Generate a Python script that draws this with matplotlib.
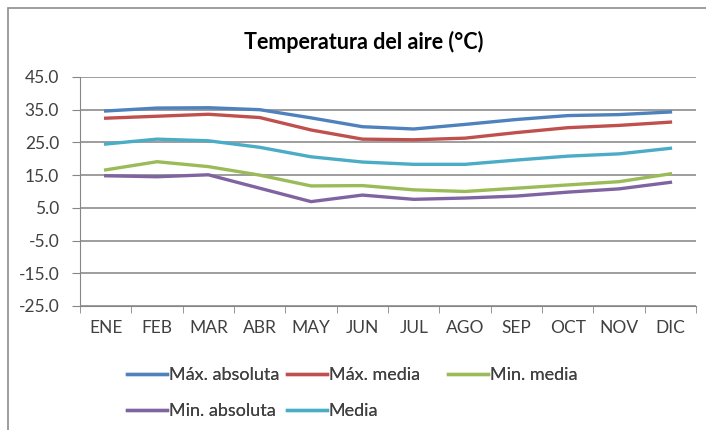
import matplotlib
matplotlib.use("Agg")
import matplotlib.pyplot as plt
from matplotlib.patches import Rectangle

plt.rcParams['font.family'] = ['Lato', 'DejaVu Sans']

months = ["ENE", "FEB", "MAR", "ABR", "MAY", "JUN", "JUL", "AGO", "SEP", "OCT", "NOV", "DIC"]
max_absoluta = [34.6, 35.5, 35.6, 35.0, 32.5, 29.8, 29.1, 30.5, 32.0, 33.2, 33.5, 34.3]
max_media = [32.4, 33.0, 33.6, 32.6, 28.8, 26.0, 25.8, 26.3, 28.0, 29.5, 30.2, 31.2]
min_media = [16.6, 19.1, 17.6, 15.0, 11.7, 11.8, 10.5, 10.0, 11.0, 12.0, 13.0, 15.4]
min_absoluta = [14.8, 14.5, 15.1, 11.0, 6.9, 8.9, 7.6, 8.0, 8.6, 9.8, 10.8, 12.8]
media = [24.5, 26.0, 25.5, 23.5, 20.6, 19.0, 18.3, 18.3, 19.6, 20.8, 21.5, 23.2]
y_ticks = [-25, -15, -5, 5, 15, 25, 35, 45]

fig = plt.figure(figsize=(7.06, 4.30), dpi=100)
ax = fig.add_axes([0.1133, 0.2884, 0.8727, 0.5326])

x = list(range(len(months)))
lw = 2.4
l1, = ax.plot(x, max_absoluta, color="#4F81BD", lw=lw, label="Máx. absoluta")
l2, = ax.plot(x, max_media, color="#C0504D", lw=lw, label="Máx. media")
l3, = ax.plot(x, min_media, color="#9BBB59", lw=lw, label="Min. media")
l4, = ax.plot(x, min_absoluta, color="#8064A2", lw=lw, label="Min. absoluta")
l5, = ax.plot(x, media, color="#4BACC6", lw=lw, label="Media")

ax.set_xlim(-0.5, len(months) - 0.5)
ax.set_ylim(-25, 45)
ax.set_yticks(y_ticks)
ax.set_yticklabels(["{:.1f}".format(v) for v in y_ticks], fontsize=12.5, color="#404040")
ax.set_xticks(x)
ax.set_xticklabels(months, fontsize=12.5, color="#404040")
ax.tick_params(axis="x", length=0, pad=10)
ax.set_xticks([i - 0.5 for i in range(len(months) + 1)], minor=True)
ax.tick_params(axis="x", which="minor", length=5, color="#868686")
ax.tick_params(axis="y", length=6, color="#868686", pad=9)
ax.yaxis.grid(True, color="#8C8C8C", lw=1.2)
ax.set_axisbelow(True)
for s in ["top", "right"]:
    ax.spines[s].set_visible(False)
ax.spines["left"].set_color("#868686")
ax.spines["bottom"].set_color("#868686")

fig.text(0.515, 0.902, "Temperatura del aire (°C)", ha="center", va="center",
         fontsize=15.5, fontweight="bold", color="black")

# legend: three fixed-width columns, like the original
columns = [([l1, l4], 127), ([l2, l5], 287), ([l3], 448)]
for col_handles, xpix in columns:
    leg = fig.legend(col_handles, [h.get_label() for h in col_handles],
                     loc="upper left", bbox_to_anchor=(xpix / 706, 1 - 367 / 430),
                     frameon=False, fontsize=13, handlelength=2.2,
                     handletextpad=0.1, labelspacing=1.1, borderpad=0,
                     borderaxespad=0, labelcolor="#404040")
    fig.add_artist(leg)

fig.patches.append(Rectangle((8 / 706, -0.1), 1.2, 1 - 8 / 430 + 0.1,
                             transform=fig.transFigure, fill=False,
                             edgecolor="#8C8C8C", lw=1.2))

fig.savefig("out.png", dpi=100)
